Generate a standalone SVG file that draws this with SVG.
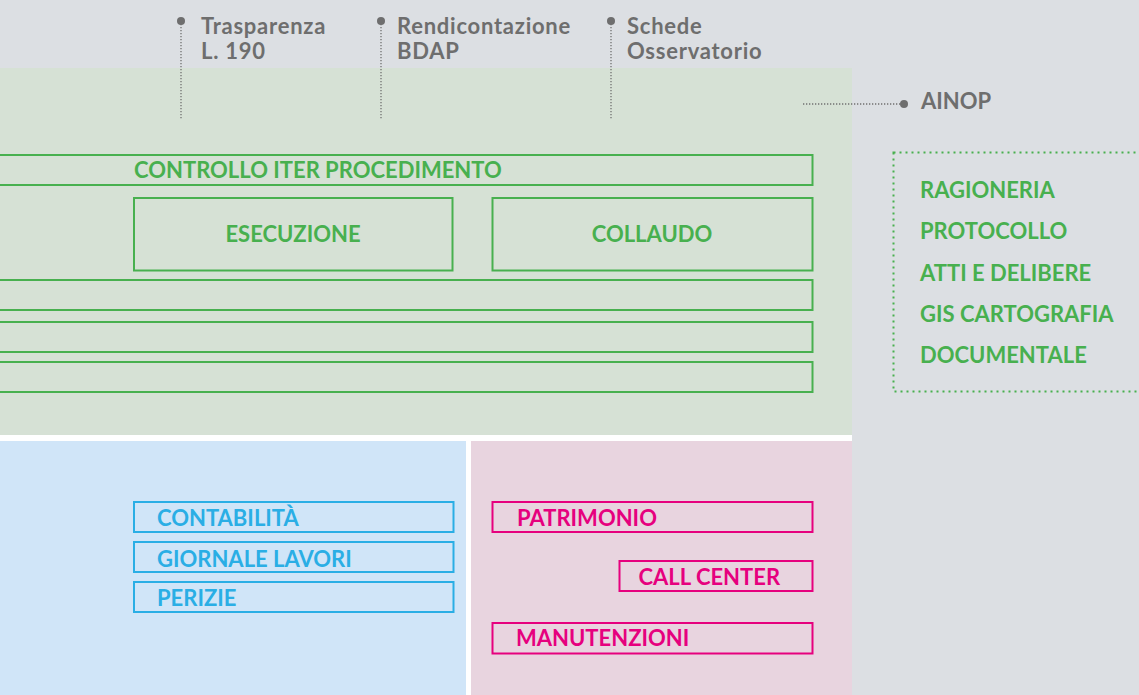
<svg xmlns="http://www.w3.org/2000/svg" width="1139" height="695" viewBox="0 0 1139 695">
<style>
.g{fill:none;stroke:#48b04f;stroke-width:2}
.b{fill:none;stroke:#2aaee5;stroke-width:2}
.p{fill:none;stroke:#e6007e;stroke-width:2}
.t{font-family:Lato,"Liberation Sans",sans-serif;font-weight:700;font-size:22px}
.tk{fill:#6e6e6e;letter-spacing:0.75px}
.tg{fill:#48b04f}.tb{fill:#2aaee5}.tp{fill:#e6007e}
.dl{stroke:#707070;stroke-width:1.3;stroke-dasharray:1.3 1.7;fill:none}
.dot{fill:#6e6e6e}
</style>
<rect x="0" y="0" width="1139" height="695" fill="#dcdfe3"/>
<rect x="0" y="68" width="852" height="367" fill="#d6e1d5"/>
<rect x="0" y="435" width="852" height="6" fill="#ffffff"/>
<rect x="0" y="441" width="466" height="254" fill="#d0e5f8"/>
<rect x="466" y="441" width="5" height="254" fill="#ffffff"/>
<rect x="471" y="441" width="381" height="254" fill="#e8d4df"/>

<g id="connectors">
<line class="dl" x1="181" y1="21" x2="181" y2="120"/>
<line class="dl" x1="381" y1="21" x2="381" y2="120"/>
<line class="dl" x1="611" y1="21" x2="611" y2="120"/>
<line class="dl" x1="803" y1="104" x2="904" y2="104"/>
</g>

<g id="trasparenza">
<circle class="dot" cx="181" cy="21" r="4"/>
<text class="t tk" x="201" y="34">Trasparenza</text>
<text class="t tk" x="201" y="59">L. 190</text>
</g>
<g id="rendicontazione">
<circle class="dot" cx="381" cy="21" r="4"/>
<text class="t tk" x="397" y="34">Rendicontazione</text>
<text class="t tk" x="397" y="59">BDAP</text>
</g>
<g id="schede">
<circle class="dot" cx="611" cy="21" r="4"/>
<text class="t tk" x="627" y="34">Schede</text>
<text class="t tk" x="627" y="59">Osservatorio</text>
</g>
<g id="ainop">
<circle class="dot" cx="904" cy="104" r="4"/>
<text class="t tk" x="921" y="109" style="letter-spacing:0">AINOP</text>
</g>

<g id="controllo">
<rect class="g" x="-5" y="155" width="817.5" height="30"/>
<text class="t tg" x="134" y="178">CONTROLLO ITER PROCEDIMENTO</text>
</g>
<g id="esecuzione">
<rect class="g" x="134" y="198" width="318.5" height="72.5"/>
<text class="t tg" x="293" y="242" text-anchor="middle">ESECUZIONE</text>
</g>
<g id="collaudo">
<rect class="g" x="492.5" y="198" width="320" height="72.5"/>
<text class="t tg" x="652" y="242" text-anchor="middle">COLLAUDO</text>
</g>
<g id="row1"><rect class="g" x="-5" y="280" width="817.5" height="30"/></g>
<g id="row2"><rect class="g" x="-5" y="322" width="817.5" height="30"/></g>
<g id="row3"><rect class="g" x="-5" y="362" width="817.5" height="30"/></g>

<g id="sistemi">
<rect fill="none" stroke="#48b04f" stroke-width="2" stroke-dasharray="2 4" x="893.5" y="152.5" width="260" height="239"/>
<text class="t tg" x="920" y="198">RAGIONERIA</text>
<text class="t tg" x="920" y="239">PROTOCOLLO</text>
<text class="t tg" x="920" y="280.5">ATTI E DELIBERE</text>
<text class="t tg" x="920" y="321.5">GIS CARTOGRAFIA</text>
<text class="t tg" x="920" y="362.5">DOCUMENTALE</text>
</g>

<g id="contabilita">
<rect class="b" x="134" y="502" width="319.5" height="30"/>
<text class="t tb" x="157" y="526">CONTABILITÀ</text>
</g>
<g id="giornale">
<rect class="b" x="134" y="542" width="319.5" height="30"/>
<text class="t tb" x="157" y="566.5">GIORNALE LAVORI</text>
</g>
<g id="perizie">
<rect class="b" x="134" y="582" width="319.5" height="30"/>
<text class="t tb" x="157" y="606">PERIZIE</text>
</g>

<g id="patrimonio">
<rect class="p" x="492.5" y="502" width="320" height="30"/>
<text class="t tp" x="517" y="525.5">PATRIMONIO</text>
</g>
<g id="callcenter">
<rect class="p" x="619.5" y="561" width="193" height="30"/>
<text class="t tp" x="638.5" y="585">CALL CENTER</text>
</g>
<g id="manutenzioni">
<rect class="p" x="492.5" y="623" width="320" height="30.5"/>
<text class="t tp" x="516" y="646">MANUTENZIONI</text>
</g>
</svg>
